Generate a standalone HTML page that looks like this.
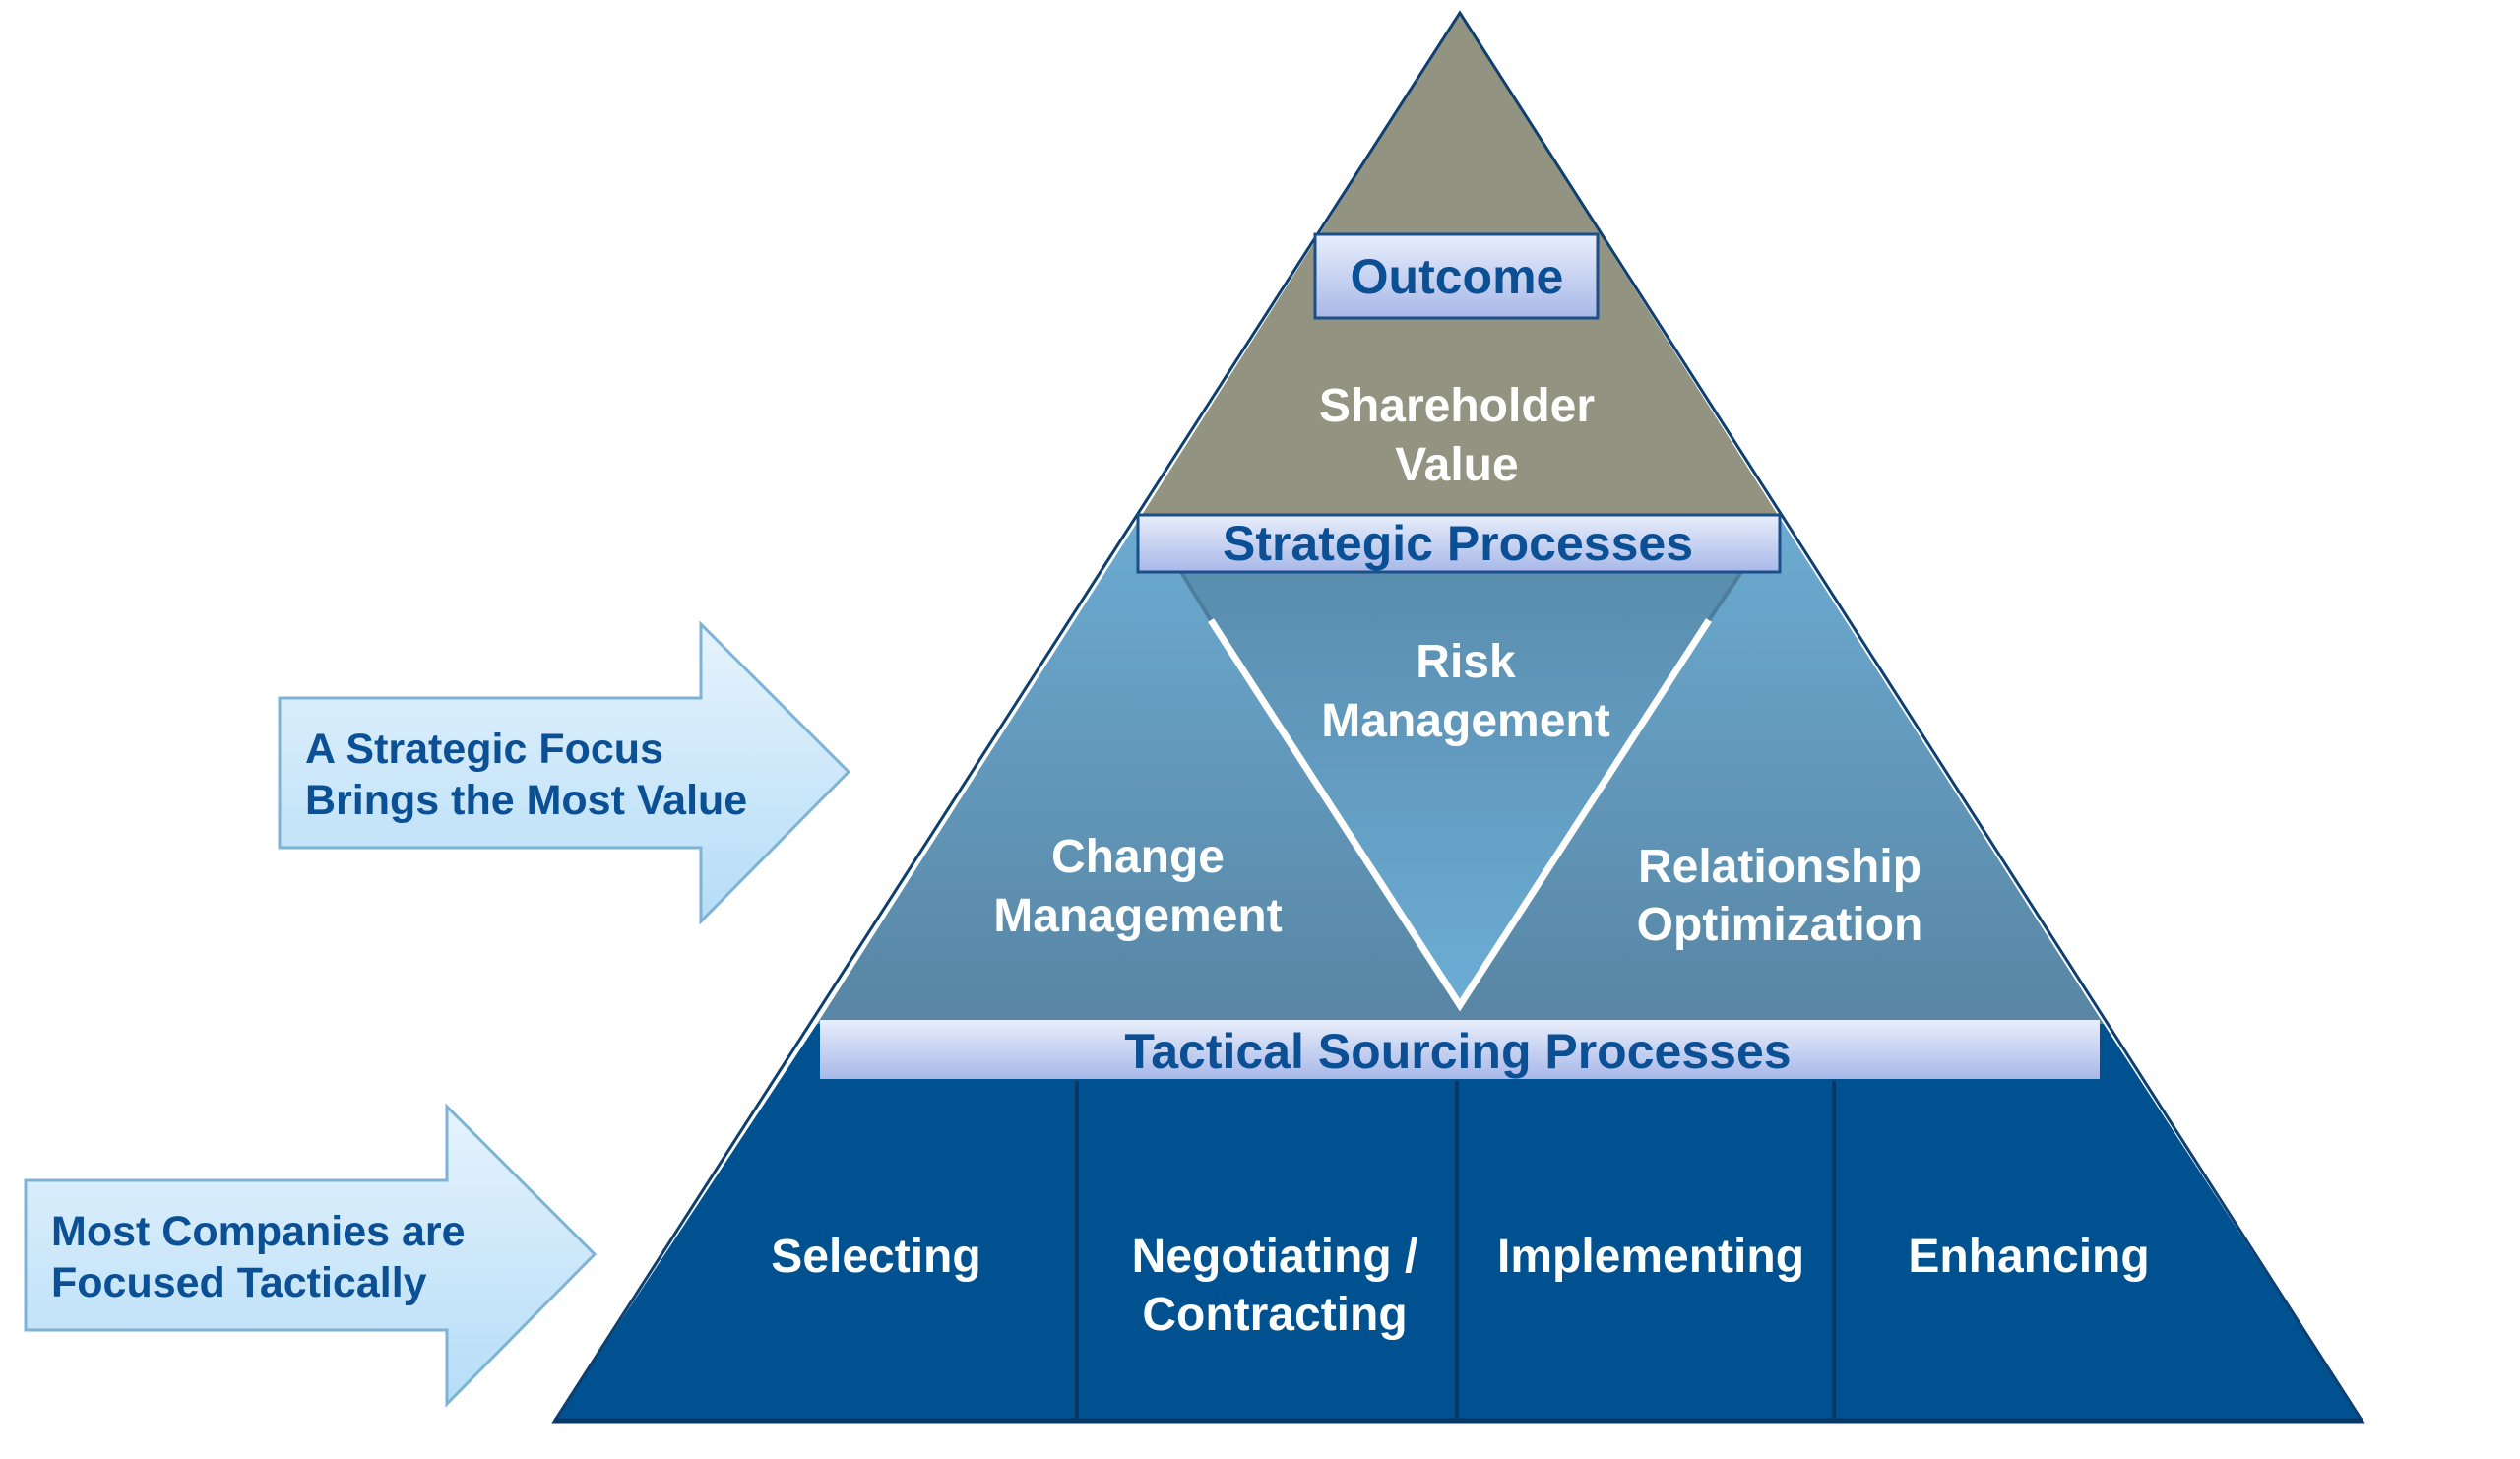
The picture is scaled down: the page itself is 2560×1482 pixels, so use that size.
<!DOCTYPE html>
<html><head><meta charset="utf-8"><style>
html,body{margin:0;padding:0;background:#fff;}
svg{display:block;}
text{font-family:"Liberation Sans",Arial,sans-serif;font-weight:bold;}
</style></head><body>
<svg width="2560" height="1482" viewBox="0 0 2560 1482" xmlns="http://www.w3.org/2000/svg">
<defs>
<linearGradient id="bar" x1="0" y1="0" x2="0" y2="1"><stop offset="0" stop-color="#e8eefb"/><stop offset="1" stop-color="#a8b8e8"/></linearGradient>
<linearGradient id="mid" x1="0" y1="0" x2="0" y2="1"><stop offset="0" stop-color="#6cabd2"/><stop offset="1" stop-color="#5885a3"/></linearGradient>
<linearGradient id="inv" x1="0" y1="0" x2="0" y2="1"><stop offset="0" stop-color="#5a8dae"/><stop offset="1" stop-color="#6cadd5"/></linearGradient>
<linearGradient id="arr" x1="0" y1="0" x2="0" y2="1"><stop offset="0" stop-color="#e6f3fd"/><stop offset="1" stop-color="#b5ddf7"/></linearGradient>
</defs>
<polygon points="1483,13 1160,523 1806,523" fill="#939381"/>
<polygon points="1160,523 1806,523 2137,1040 830,1040" fill="url(#mid)"/>
<polygon points="830,1040 2137,1040 2400,1444 563,1444" fill="#00518f"/>
<polygon points="1483,13 563,1444 2400,1444" fill="none" stroke="#0d3f70" stroke-width="3"/>
<line x1="563" y1="1443" x2="2400" y2="1443" stroke="#0a3764" stroke-width="5"/>
<polygon points="1200,581 1769,581 1483,1021" fill="url(#inv)"/>
<line x1="1200" y1="581" x2="1230" y2="630" stroke="#4d7d9d" stroke-width="4"/>
<line x1="1769" y1="581" x2="1736" y2="630" stroke="#4d7d9d" stroke-width="4"/>
<polyline points="1230,630 1483,1021 1736,630" fill="none" stroke="#fff" stroke-width="7"/>
<line x1="1094" y1="1098" x2="1094" y2="1442" stroke="#0a3764" stroke-width="4"/>
<line x1="1480" y1="1098" x2="1480" y2="1442" stroke="#0a3764" stroke-width="4"/>
<line x1="1863" y1="1098" x2="1863" y2="1442" stroke="#0a3764" stroke-width="4"/>
<rect x="1336" y="238" width="287" height="85" fill="url(#bar)" stroke="#1a4f8a" stroke-width="3"/>
<rect x="1156" y="523" width="652" height="58" fill="url(#bar)" stroke="#1a4f8a" stroke-width="3"/>
<rect x="833" y="1036" width="1300" height="60" fill="url(#bar)"/>
<g fill="#0b4f95" text-anchor="middle" font-size="50">
<text x="1480" y="298">Outcome</text>
<text x="1481" y="569">Strategic Processes</text>
<text x="1481" y="1085">Tactical Sourcing Processes</text>
</g>
<g fill="#fff" text-anchor="middle" font-size="48">
<text x="1480" y="428">Shareholder</text>
<text x="1480" y="488">Value</text>
<text x="1489" y="688">Risk</text>
<text x="1489" y="748">Management</text>
<text x="1156" y="886">Change</text>
<text x="1156" y="946">Management</text>
<text x="1808" y="896">Relationship</text>
<text x="1808" y="955">Optimization</text>
<text x="890" y="1292">Selecting</text>
<text x="1295" y="1292">Negotiating /</text>
<text x="1295" y="1351">Contracting</text>
<text x="1677" y="1292">Implementing</text>
<text x="2061" y="1292">Enhancing</text>
</g>
<polygon points="284,709 712,709 712,634 862,784 712,936 712,861 284,861" fill="url(#arr)" stroke="#7fb3d6" stroke-width="3"/>
<polygon points="26,1199 454,1199 454,1124 604,1274 454,1426 454,1351 26,1351" fill="url(#arr)" stroke="#7fb3d6" stroke-width="3"/>
<g fill="#0b4f95" font-size="43">
<text x="310" y="775">A Strategic Focus</text>
<text x="310" y="827">Brings the Most Value</text>
<text x="52" y="1265">Most Companies are</text>
<text x="52" y="1317">Focused Tactically</text>
</g>
</svg>
</body></html>
